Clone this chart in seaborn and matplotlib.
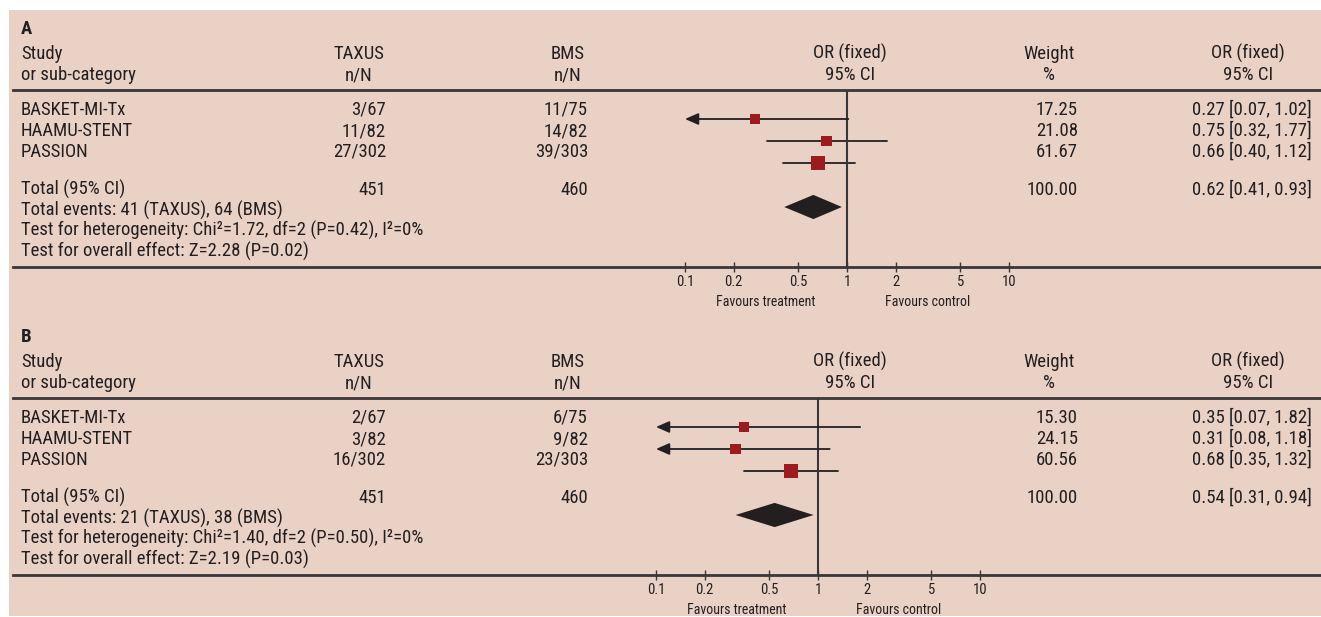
import matplotlib.pyplot as plt
import seaborn as sns
from matplotlib.patches import Rectangle

W, H = 1321, 617

STUDIES = ["BASKET-MI-Tx", "HAAMU-STENT", "PASSION"]
TICKS = [0.1, 0.2, 0.5, 1, 2, 5, 10]
TICK_LABELS = ["0.1", "0.2", "0.5", "1", "2", "5", "10"]

# panel A
A_TAXUS = ["3/67", "11/82", "27/302"]
A_BMS = ["11/75", "14/82", "39/303"]
A_WEIGHT = [17.25, 21.08, 61.67]
A_OR = [0.27, 0.75, 0.66]
A_LO = [0.07, 0.32, 0.40]
A_HI = [1.02, 1.77, 1.12]
A_TOTAL = ["451", "460", "100.00"]
A_POOLED = [0.62, 0.41, 0.93]
A_NOTES = [
    "Total events: 41 (TAXUS), 64 (BMS)",
    "Test for heterogeneity: Chi²=1.72, df=2 (P=0.42), I²=0%",
    "Test for overall effect: Z=2.28 (P=0.02)",
]

# panel B
B_TAXUS = ["2/67", "3/82", "16/302"]
B_BMS = ["6/75", "9/82", "23/303"]
B_WEIGHT = [15.30, 24.15, 60.56]
B_OR = [0.35, 0.31, 0.68]
B_LO = [0.07, 0.08, 0.35]
B_HI = [1.82, 1.18, 1.32]
B_TOTAL = ["451", "460", "100.00"]
B_POOLED = [0.54, 0.31, 0.94]
B_NOTES = [
    "Total events: 21 (TAXUS), 38 (BMS)",
    "Test for heterogeneity: Chi²=1.40, df=2 (P=0.50), I²=0%",
    "Test for overall effect: Z=2.19 (P=0.03)",
]

BG = "#ead1c6"
RED = "#9b1b1f"
DARK = "#231f20"
LINE = "#3a3637"
FS = 13.5

sns.set_theme(style="white")
plt.rcParams["font.family"] = ["Roboto Condensed", "Liberation Sans Narrow", "Liberation Sans", "DejaVu Sans"]
plt.rcParams["text.color"] = DARK

PX_PER_DECADE = 162.0
ROW_PX = 22.0


def px_rect(x0, y0, x1, y1):
    return [x0 / W, 1 - y1 / H, (x1 - x0) / W, (y1 - y0) / H]


def draw_panel(fig, bg, off, one_px, label, taxus, bms, weight, ors, lo, hi, total, pooled, notes):
    txt = dict(fontsize=FS, va="baseline", color=DARK)
    bg.text(21, off + 34, label, fontsize=FS, fontweight="bold", va="baseline")
    # column headers
    bg.text(21, off + 59, "Study", **txt)
    bg.text(21, off + 80, "or sub-category", **txt)
    for cx, h1, h2 in [(359, "TAXUS", "n/N"), (568, "BMS", "n/N"), (850, "OR (fixed)", "95% CI"),
                       (1049, "Weight", "%"), (1248, "OR (fixed)", "95% CI")]:
        bg.text(cx, off + 59, h1, ha="center", **txt)
        bg.text(cx, off + 80, h2, ha="center", **txt)

    # study rows
    for i, name in enumerate(STUDIES):
        y = off + 115 + 21 * i
        bg.text(21, y, name, **txt)
        bg.text(386, y, taxus[i], ha="right", **txt)
        bg.text(588, y, bms[i], ha="right", **txt)
        bg.text(1078, y, f"{weight[i]:.2f}", ha="right", **txt)
        bg.text(1312, y, f"{ors[i]:.2f} [{lo[i]:.2f}, {hi[i]:.2f}]", ha="right", **txt)

    y = off + 195
    bg.text(21, y, "Total (95% CI)", **txt)
    bg.text(386, y, total[0], ha="right", **txt)
    bg.text(588, y, total[1], ha="right", **txt)
    bg.text(1078, y, total[2], ha="right", **txt)
    bg.text(1312, y, f"{pooled[0]:.2f} [{pooled[1]:.2f}, {pooled[2]:.2f}]", ha="right", **txt)
    for j, note in enumerate(notes):
        bg.text(21, off + 215.5 + 20.5 * j, note, **txt)

    # forest plot axes: top spine = header rule, bottom spine = axis
    top, bottom = off + 90, off + 267
    row0 = off + 119
    ax = fig.add_axes(px_rect(13, top, W, bottom))
    ax.set_facecolor("none")
    ax.set_xscale("log")
    ax.set_xlim(10 ** ((13 - one_px) / PX_PER_DECADE), 10 ** ((W - one_px) / PX_PER_DECADE))
    ax.set_ylim((bottom - row0) / ROW_PX, (top - row0) / ROW_PX)

    rows = list(range(len(STUDIES)))
    for r in rows:
        if lo[r] < TICKS[0]:
            ax.annotate("", xy=(TICKS[0], r), xytext=(hi[r], r),
                        arrowprops=dict(arrowstyle="-|>,head_length=0.8,head_width=0.35",
                                        color=DARK, lw=1.3, shrinkA=0, shrinkB=0,
                                        mutation_scale=10))
        else:
            ax.plot([lo[r], hi[r]], [r, r], color=DARK, lw=1.3)

    sns.scatterplot(x=ors, y=rows, size=weight, sizes=(40, 130), size_norm=(0, 100),
                    marker="s", color=RED, linewidth=0, legend=False, ax=ax, zorder=3)

    d = len(STUDIES) + 1
    ax.fill([pooled[1], pooled[0], pooled[2], pooled[0]], [d, d - 0.55, d, d + 0.55],
            color=DARK, lw=0, zorder=3)
    ax.axvline(1, color=LINE, lw=1.5, zorder=2)

    for s in ["left", "right"]:
        ax.spines[s].set_visible(False)
    for s in ["top", "bottom"]:
        ax.spines[s].set_color(LINE)
        ax.spines[s].set_linewidth(2)
    ax.set_yticks([])
    ax.set_xticks(TICKS)
    ax.set_xticklabels(TICK_LABELS)
    ax.xaxis.set_minor_locator(plt.NullLocator())
    ax.tick_params(axis="x", direction="inout", length=7, width=1, color=LINE,
                   labelsize=10.5, pad=2, labelcolor=DARK, bottom=True)
    ax.set_xlabel("")
    ax.set_ylabel("")

    for xv, lab in [(10 ** -0.5, "Favours treatment"), (10 ** 0.5, "Favours control")]:
        ax.annotate(lab, xy=(xv, 0), xycoords=ax.get_xaxis_transform(), xytext=(0, -35),
                    textcoords="offset pixels", ha="center", va="center", fontsize=10)
    return ax


fig = plt.figure(figsize=(W / 100, H / 100), dpi=100)
fig.patch.set_facecolor("white")
bg = fig.add_axes([0, 0, 1, 1])
bg.set_xlim(0, W)
bg.set_ylim(H, 0)
bg.axis("off")
bg.add_patch(Rectangle((9, 10), W - 9, 606, facecolor=BG, edgecolor="none", zorder=0))

draw_panel(fig, bg, 0, 847, "A", A_TAXUS, A_BMS, A_WEIGHT, A_OR, A_LO, A_HI,
           A_TOTAL, A_POOLED, A_NOTES)
draw_panel(fig, bg, 308, 818, "B", B_TAXUS, B_BMS, B_WEIGHT, B_OR, B_LO, B_HI,
           B_TOTAL, B_POOLED, B_NOTES)

fig.savefig("out.png", dpi=100, facecolor=fig.get_facecolor())
